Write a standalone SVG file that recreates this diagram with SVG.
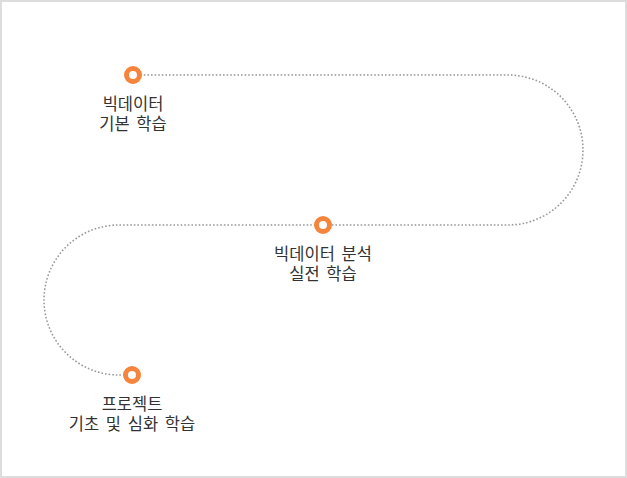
<svg xmlns="http://www.w3.org/2000/svg" width="627" height="478" viewBox="0 0 627 478">
<style>
.lbl{font-family:"Noto Sans CJK KR","Noto Sans",sans-serif;font-size:16.5px;fill:#333;text-anchor:middle;word-spacing:3px}
.dot{fill:#fff;stroke:#F5843C;stroke-width:5}
.path{fill:none;stroke:#999;stroke-width:1.6;stroke-dasharray:1.6 2}
</style>
<rect x="1" y="1" width="625" height="476" fill="#fff" stroke="#ddd" stroke-width="2"/>
<g id="connectors">
<path class="path" d="M133 75 H508 A75 75 0 0 1 508 225 H119 A75 75 0 0 0 119 375 H132"/>
</g>
<g id="node1">
<circle class="dot" cx="133" cy="75" r="6.5"/>
<text class="lbl" x="133" y="110">빅데이터</text>
<text class="lbl" x="133" y="129.5">기본 학습</text>
</g>
<g id="node2">
<circle class="dot" cx="323" cy="225" r="6.5"/>
<text class="lbl" x="323" y="260">빅데이터 분석</text>
<text class="lbl" x="323" y="279.5">실전 학습</text>
</g>
<g id="node3">
<circle class="dot" cx="132" cy="375" r="6.5"/>
<text class="lbl" x="132" y="410">프로젝트</text>
<text class="lbl" x="132" y="429.5">기초 및 심화 학습</text>
</g>
</svg>
